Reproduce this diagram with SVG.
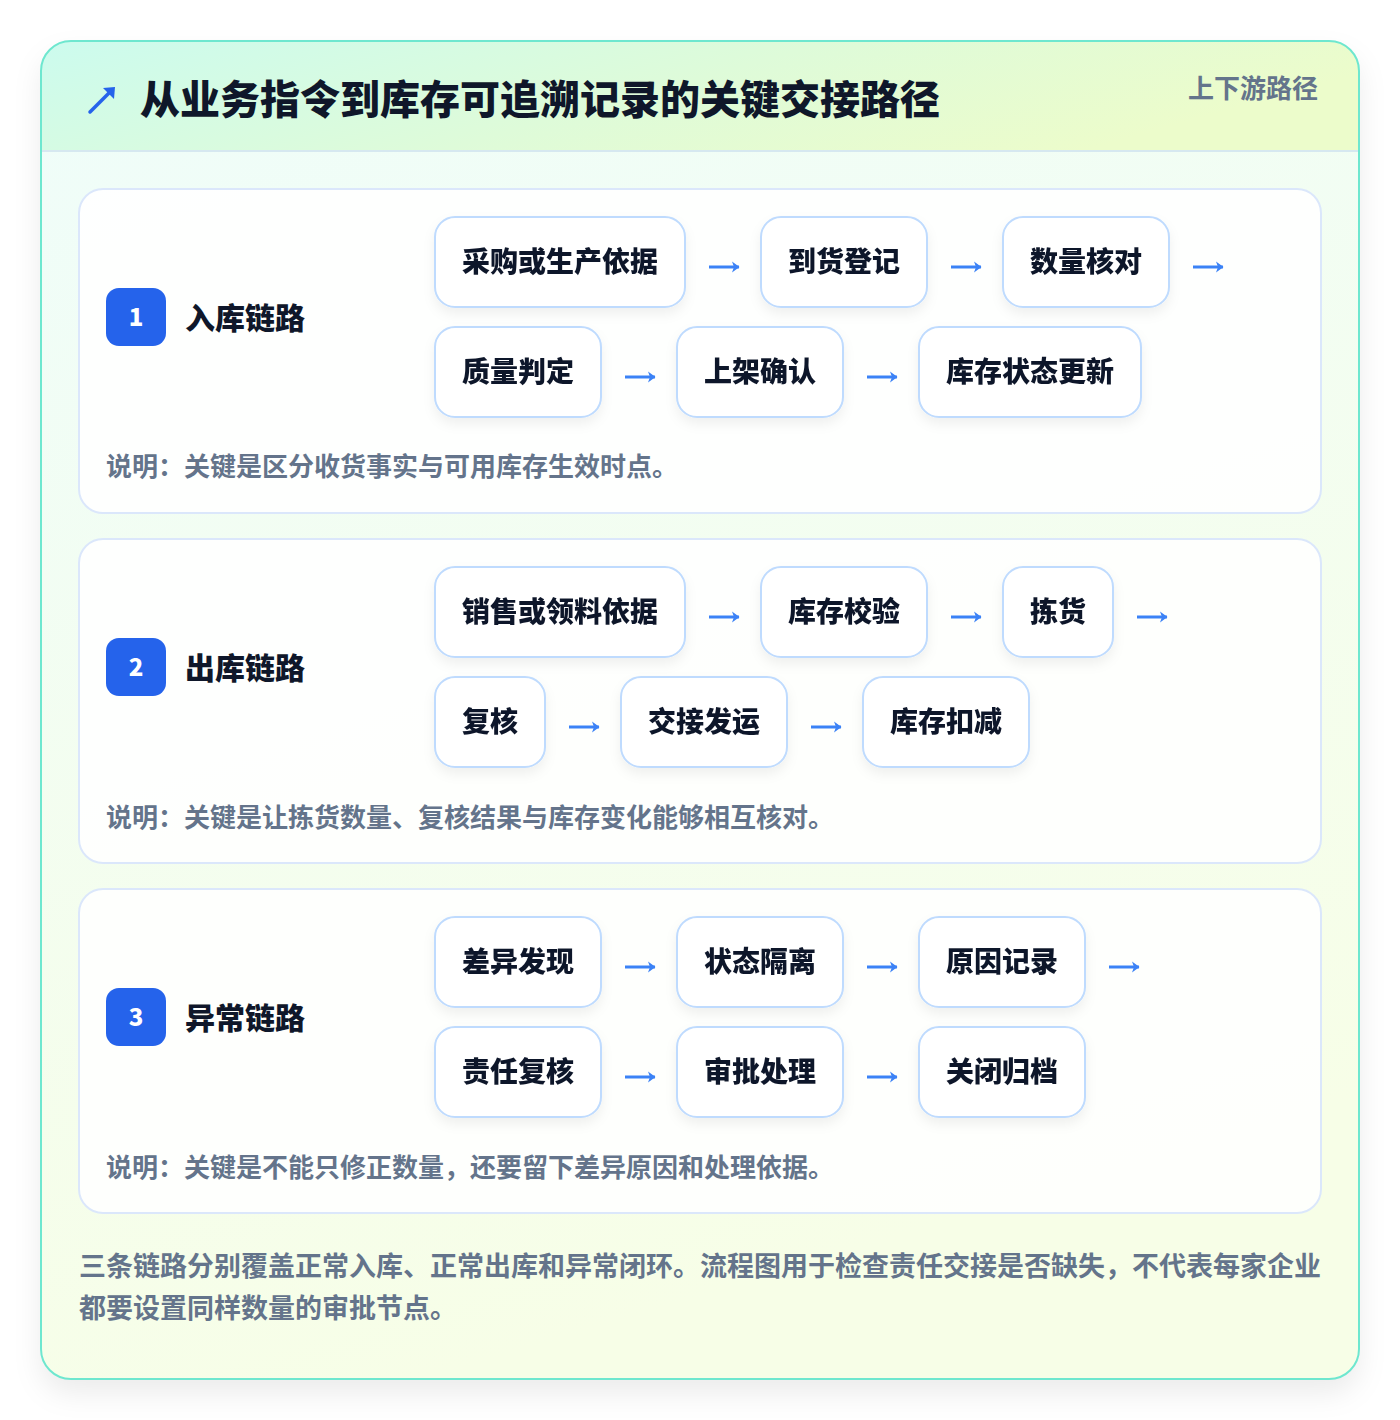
<svg xmlns="http://www.w3.org/2000/svg" width="1400" height="1420" viewBox="0 0 1400 1420">
<defs>
<linearGradient id="hdr" x1="0" y1="0" x2="1" y2="0.3">
<stop offset="0" stop-color="#ccfbee"/>
<stop offset="0.55" stop-color="#defbd9"/>
<stop offset="1" stop-color="#ecfccb"/>
</linearGradient>
<linearGradient id="body" x1="0" y1="0" x2="0.3" y2="1">
<stop offset="0" stop-color="#effdfa"/>
<stop offset="1" stop-color="#f7fee7"/>
</linearGradient>
<clipPath id="cardclip"><rect x="41" y="41" width="1318" height="1338" rx="30"/></clipPath>
<filter id="sh" x="-10%" y="-10%" width="120%" height="125%">
<feDropShadow dx="0" dy="14" stdDeviation="14" flood-color="#0f172a" flood-opacity="0.08"/>
</filter>
<filter id="nsh" x="-20%" y="-20%" width="140%" height="160%">
<feDropShadow dx="0" dy="6" stdDeviation="6" flood-color="#0f172a" flood-opacity="0.06"/>
</filter>
<marker id="ah" viewBox="0 0 12 12" refX="11" refY="6" markerWidth="12" markerHeight="12" markerUnits="userSpaceOnUse" orient="auto">
<path d="M4,0.5 L11.5,6 L4,11.5 L6,6 Z" fill="#3b82f6"/>
</marker>
</defs>
<style>
text{font-family:"Noto Sans CJK SC","Noto Sans",sans-serif;font-weight:700}
.title{font-size:40px;fill:#0f172a;font-weight:900}
.tag{font-size:26px;fill:#64748b}
.sec{fill:#ffffff;fill-opacity:0.88;stroke:#dbe7fb;stroke-width:2}
.badge{fill:#2563eb}
.bnum{font-size:24px;fill:#ffffff;text-anchor:middle;font-weight:900}
.lbl{font-size:30px;fill:#0f172a;font-weight:900}
.node rect{fill:#ffffff;stroke:#bfdbfe;stroke-width:2}
.node text{font-size:28px;fill:#0f172a;text-anchor:middle;font-weight:900}
.note{font-size:26px;fill:#64748b}
.foot{font-size:27px;fill:#64748b}
.conn path{stroke:#3b82f6;stroke-width:3;fill:none;marker-end:url(#ah)}
</style>
<rect width="1400" height="1420" fill="#ffffff"/>
<g id="card">
<rect x="41" y="41" width="1318" height="1338" rx="30" fill="url(#body)" filter="url(#sh)"/>
<g clip-path="url(#cardclip)">
<rect x="41" y="41" width="1318" height="110" fill="url(#hdr)"/>
<line x1="41" y1="151" x2="1359" y2="151" stroke="#d6e8f0" stroke-width="2"/>
</g>
<rect x="41" y="41" width="1318" height="1338" rx="30" fill="none" stroke="#6ee7cf" stroke-width="2"/>
</g>
<g id="header">
<path d="M90,112 L112,90" stroke="#2563eb" stroke-width="3.5" stroke-linecap="round" fill="none"/>
<path d="M103,88 L115,87 L114,99 Z" fill="#2563eb"/>
<text class="title" x="140" y="114">从业务指令到库存可追溯记录的关键交接路径</text>
<text class="tag" x="1318" y="98" text-anchor="end">上下游路径</text>
</g>

<g id="section1">
<rect class="sec" x="79" y="189" width="1242" height="324" rx="24"/>
<rect class="badge" x="106" y="288" width="60" height="58" rx="13"/>
<text class="bnum" x="136" y="326">1</text>
<text class="lbl" x="185" y="329">入库链路</text>
<text class="note" x="106" y="476">说明：关键是区分收货事实与可用库存生效时点。</text>
</g>
<g id="n1a" class="node" filter="url(#nsh)"><rect x="435" y="217" width="250" height="90" rx="20"/><text x="560" y="272">采购或生产依据</text></g>
<g id="n1b" class="node" filter="url(#nsh)"><rect x="761" y="217" width="166" height="90" rx="20"/><text x="844" y="272">到货登记</text></g>
<g id="n1c" class="node" filter="url(#nsh)"><rect x="1003" y="217" width="166" height="90" rx="20"/><text x="1086" y="272">数量核对</text></g>
<g id="n1d" class="node" filter="url(#nsh)"><rect x="435" y="327" width="166" height="90" rx="20"/><text x="518" y="382">质量判定</text></g>
<g id="n1e" class="node" filter="url(#nsh)"><rect x="677" y="327" width="166" height="90" rx="20"/><text x="760" y="382">上架确认</text></g>
<g id="n1f" class="node" filter="url(#nsh)"><rect x="919" y="327" width="222" height="90" rx="20"/><text x="1030" y="382">库存状态更新</text></g>

<g id="section2">
<rect class="sec" x="79" y="539" width="1242" height="324" rx="24"/>
<rect class="badge" x="106" y="638" width="60" height="58" rx="13"/>
<text class="bnum" x="136" y="676">2</text>
<text class="lbl" x="185" y="679">出库链路</text>
<text class="note" x="106" y="827">说明：关键是让拣货数量、复核结果与库存变化能够相互核对。</text>
</g>
<g id="n2a" class="node" filter="url(#nsh)"><rect x="435" y="567" width="250" height="90" rx="20"/><text x="560" y="622">销售或领料依据</text></g>
<g id="n2b" class="node" filter="url(#nsh)"><rect x="761" y="567" width="166" height="90" rx="20"/><text x="844" y="622">库存校验</text></g>
<g id="n2c" class="node" filter="url(#nsh)"><rect x="1003" y="567" width="110" height="90" rx="20"/><text x="1058" y="622">拣货</text></g>
<g id="n2d" class="node" filter="url(#nsh)"><rect x="435" y="677" width="110" height="90" rx="20"/><text x="490" y="732">复核</text></g>
<g id="n2e" class="node" filter="url(#nsh)"><rect x="621" y="677" width="166" height="90" rx="20"/><text x="704" y="732">交接发运</text></g>
<g id="n2f" class="node" filter="url(#nsh)"><rect x="863" y="677" width="166" height="90" rx="20"/><text x="946" y="732">库存扣减</text></g>

<g id="section3">
<rect class="sec" x="79" y="889" width="1242" height="324" rx="24"/>
<rect class="badge" x="106" y="988" width="60" height="58" rx="13"/>
<text class="bnum" x="136" y="1026">3</text>
<text class="lbl" x="185" y="1029">异常链路</text>
<text class="note" x="106" y="1177">说明：关键是不能只修正数量，还要留下差异原因和处理依据。</text>
</g>
<g id="n3a" class="node" filter="url(#nsh)"><rect x="435" y="917" width="166" height="90" rx="20"/><text x="518" y="972">差异发现</text></g>
<g id="n3b" class="node" filter="url(#nsh)"><rect x="677" y="917" width="166" height="90" rx="20"/><text x="760" y="972">状态隔离</text></g>
<g id="n3c" class="node" filter="url(#nsh)"><rect x="919" y="917" width="166" height="90" rx="20"/><text x="1002" y="972">原因记录</text></g>
<g id="n3d" class="node" filter="url(#nsh)"><rect x="435" y="1027" width="166" height="90" rx="20"/><text x="518" y="1082">责任复核</text></g>
<g id="n3e" class="node" filter="url(#nsh)"><rect x="677" y="1027" width="166" height="90" rx="20"/><text x="760" y="1082">审批处理</text></g>
<g id="n3f" class="node" filter="url(#nsh)"><rect x="919" y="1027" width="166" height="90" rx="20"/><text x="1002" y="1082">关闭归档</text></g>

<g id="connectors" class="conn">
<path d="M709,267 H739"/>
<path d="M951,267 H981"/>
<path d="M1193,267 H1223"/>
<path d="M625,377 H655"/>
<path d="M867,377 H897"/>
<path d="M709,617 H739"/>
<path d="M951,617 H981"/>
<path d="M1137,617 H1167"/>
<path d="M569,727 H599"/>
<path d="M811,727 H841"/>
<path d="M625,967 H655"/>
<path d="M867,967 H897"/>
<path d="M1109,967 H1139"/>
<path d="M625,1077 H655"/>
<path d="M867,1077 H897"/>
</g>

<g id="footer">
<text class="foot" x="79" y="1276">三条链路分别覆盖正常入库、正常出库和异常闭环。流程图用于检查责任交接是否缺失，不代表每家企业</text>
<text class="foot" x="79" y="1318">都要设置同样数量的审批节点。</text>
</g>
</svg>
